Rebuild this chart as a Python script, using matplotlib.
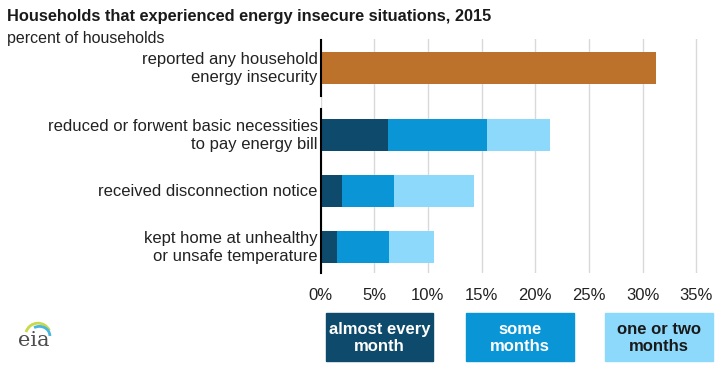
import matplotlib
matplotlib.use("Agg")
import matplotlib.pyplot as plt
from matplotlib.patches import Rectangle, Arc

plt.rcParams["font.family"] = ["Liberation Sans", "DejaVu Sans"]

title = "Households that experienced energy insecure situations, 2015"
subtitle = "percent of households"

total_label = "reported any household\nenergy insecurity"
total_value = 31.2

categories = [
    "reduced or forwent basic necessities\nto pay energy bill",
    "received disconnection notice",
    "kept home at unhealthy\nor unsafe temperature",
]
almost_every_month = [6.3, 2.0, 1.5]
some_months = [9.2, 4.8, 4.9]
one_or_two_months = [5.9, 7.5, 4.2]

series_labels = ["almost every\nmonth", "some\nmonths", "one or two\nmonths"]
colors = ["#0d4a6b", "#0a95d6", "#8dd9fc"]
orange = "#bc722b"

xticks = [0, 5, 10, 15, 20, 25, 30, 35]

W, H = 719, 368
fig = plt.figure(figsize=(W / 100, H / 100), dpi=100)

# axes: 0% at x=320, 35% at x=695
x0 = 320.5 / W
px_per_pct = 10.74
xmax = 35.8
ax = fig.add_axes([x0, 1 - 273 / H, xmax * px_per_pct / W, (273 - 39) / H])

ypos_total = 0
ypos = [1.2, 2.2, 3.2]
bar_h = 0.57

ax.barh(ypos_total, total_value, height=bar_h, color=orange, zorder=3)

left = [0, 0, 0]
for vals, c in zip([almost_every_month, some_months, one_or_two_months], colors):
    ax.barh(ypos, vals, left=left, height=bar_h, color=c, zorder=3)
    left = [l + v for l, v in zip(left, vals)]

ax.set_xlim(0, xmax)
ax.set_ylim(3.66, -0.52)
ax.set_xticks(xticks)
ax.set_xticklabels([f"{t}%" for t in xticks], fontsize=12, color="#222222")
ax.tick_params(axis="x", length=0, pad=11)
ax.set_yticks([])
ax.grid(axis="x", color="#d9d9d9", linewidth=1, zorder=0)
for s in ax.spines.values():
    s.set_visible(False)

# broken left axis line
ax.plot([0, 0], [-0.5, 0.5], color="black", lw=1.5, clip_on=False, zorder=4)
ax.plot([0, 0], [0.73, 3.66], color="black", lw=1.5, clip_on=False, zorder=4)

# category labels
ax.text(-0.25, ypos_total, total_label, ha="right", va="center",
        fontsize=12, color="#222222", linespacing=1.25)
for y, lab in zip(ypos, categories):
    ax.text(-0.25, y, lab, ha="right", va="center",
            fontsize=12, color="#222222", linespacing=1.25)

fig.text(7 / W, 1 - 17 / H, title, fontsize=11.8, fontweight="bold",
         va="center", ha="left", color="#1a1a1a")
fig.text(7 / W, 1 - 38 / H, subtitle, fontsize=11.5, va="center", ha="left",
         color="#222222")

# legend boxes
boxes = [(326, 433), (466, 574), (605, 713)]
text_colors = ["white", "white", "#1a1a1a"]
for (bx0, bx1), c, lab, tc in zip(boxes, colors, series_labels, text_colors):
    fig.patches.append(Rectangle((bx0 / W, 1 - 361 / H), (bx1 - bx0) / W,
                                 48 / H, transform=fig.transFigure,
                                 color=c, zorder=1))
    fig.text((bx0 + bx1) / 2 / W, 1 - 338 / H, lab, ha="center", va="center",
             fontsize=12, fontweight="bold", color=tc, linespacing=1.2)

# eia logo
fig.text(34 / W, 1 - 341 / H, "eia", fontsize=15, family="DejaVu Serif",
         color="#4d4d4d", ha="center", va="center")
lax = fig.add_axes([24 / W, 1 - 336 / H, 28 / W, 16 / H])
lax.set_xlim(0, 1)
lax.set_ylim(0, 1)
lax.axis("off")
lax.add_patch(Arc((0.5, 0.0), 0.9, 1.6, theta1=40, theta2=150,
                  color="#c9d94a", lw=2))
lax.add_patch(Arc((0.55, 0.0), 0.75, 1.2, theta1=0, theta2=110,
                  color="#49b6e0", lw=2))

fig.savefig("out.png", dpi=100)
